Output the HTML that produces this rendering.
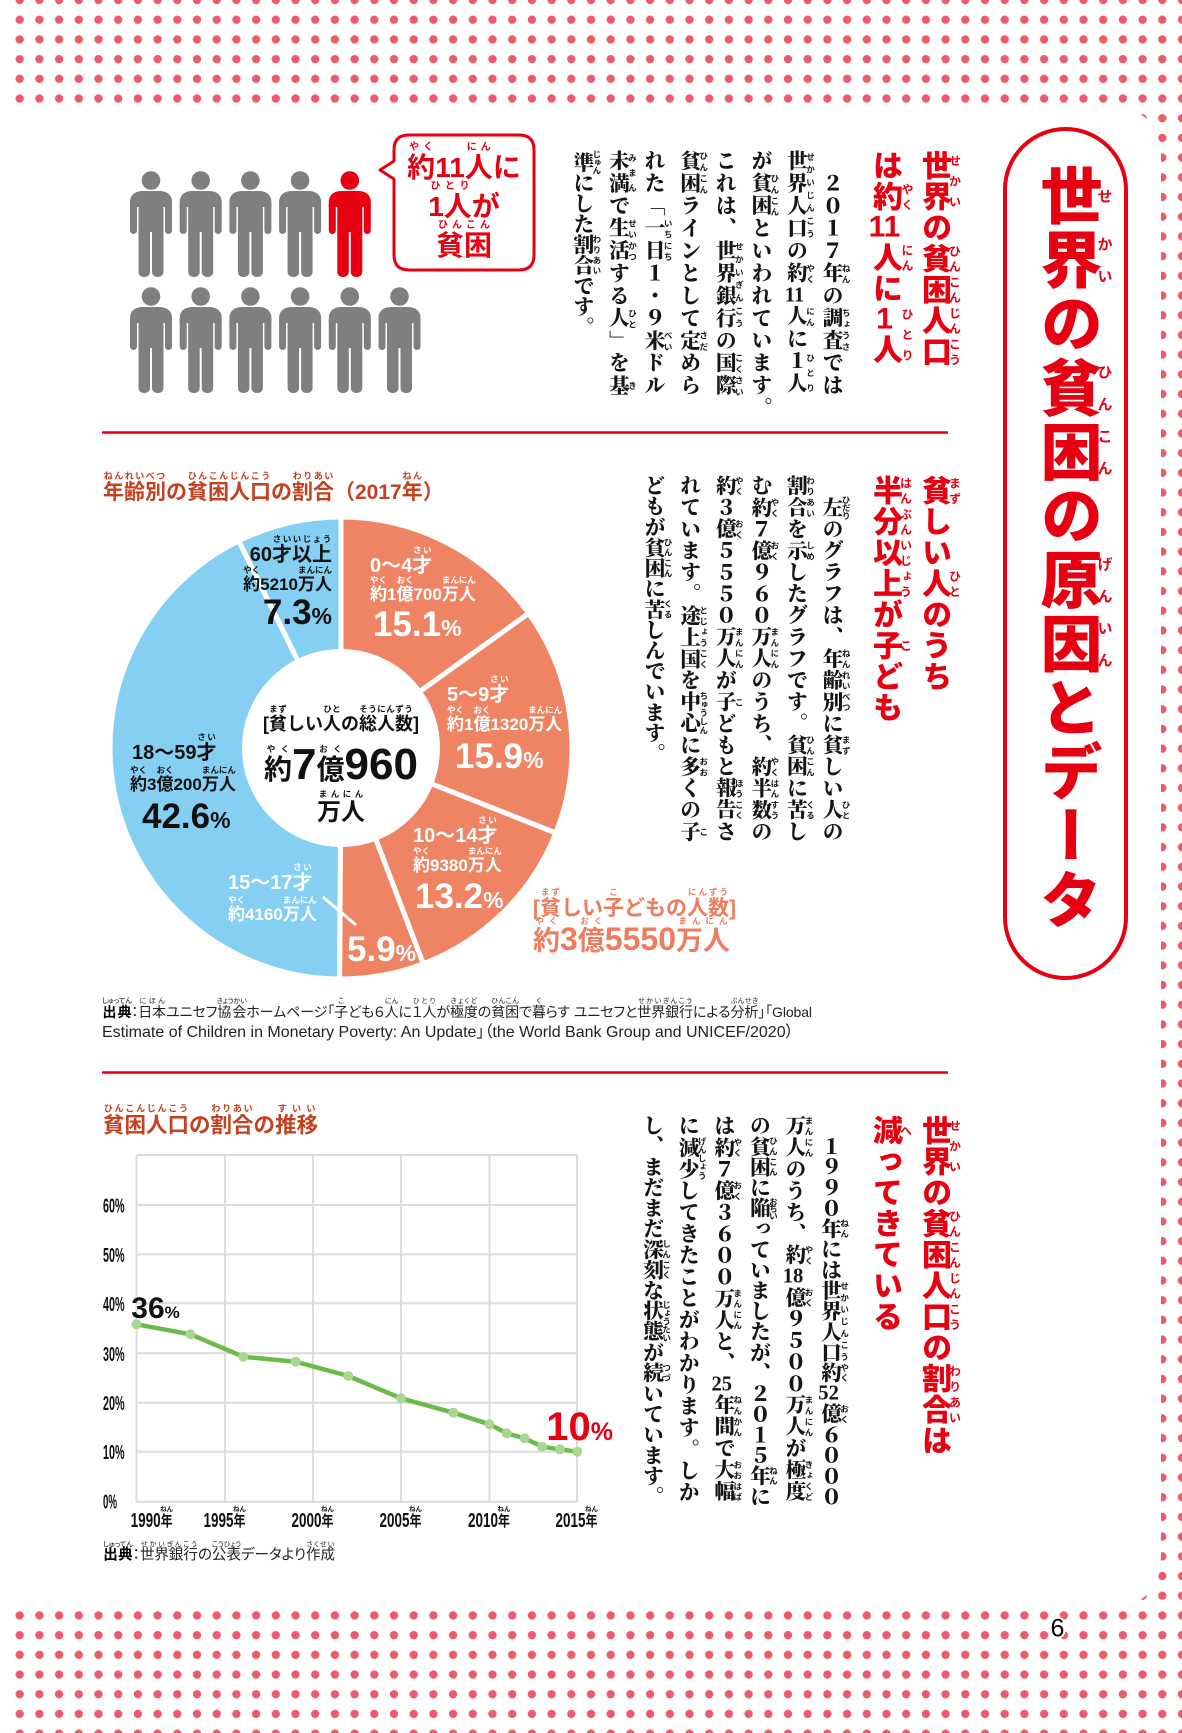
<!DOCTYPE html>
<html lang="ja"><head><meta charset="utf-8">
<style>
html,body{margin:0;padding:0;}
body{width:1182px;height:1733px;position:relative;overflow:hidden;background:#fff;}
svg{position:absolute;left:0;top:0;}
.v{position:absolute;writing-mode:vertical-rl;white-space:nowrap;line-height:1;}
.body{font-family:"Liberation Serif","Noto Serif CJK SC",serif;font-weight:900;font-size:20.6px;color:#151515;}
.body rt{font-family:"Noto Sans CJK JP",sans-serif;font-size:8.5px;font-weight:700;letter-spacing:-0.5px;line-height:1;}
.s1{letter-spacing:1.85px}
.s2{letter-spacing:1px}
.s3{letter-spacing:0.96px}
.hd{font-family:"Liberation Sans","Noto Sans CJK JP",sans-serif;font-weight:900;font-size:30px;color:#e60012;letter-spacing:1px;}
.hd rt{font-size:12px;font-weight:700;letter-spacing:0;line-height:1;}
.tcy{text-combine-upright:all;}
.ttl{font-family:"Liberation Sans","Noto Sans CJK JP",sans-serif;font-weight:900;font-size:62px;color:#e60012;letter-spacing:2px;}
.ttl rt{font-size:15px;font-weight:700;letter-spacing:0;line-height:1;}
.h{position:absolute;white-space:nowrap;line-height:1;transform:translateY(-100%);font-family:"Liberation Sans","Noto Sans CJK JP",sans-serif;font-weight:700;}
.h rt{font-family:"Noto Sans CJK JP",sans-serif;font-size:8.5px;font-weight:700;line-height:1;}
.c{transform:translate(-50%,-100%);}
.w{color:#fff;}
.k{color:#111;}
.cat{font-size:20px;}
.amt{font-size:17px;}
.num{font-size:35px;}
.num .p{font-size:23px;}
.ctitle{font-size:21px;color:#c4401f;}
.ctitle rt{color:#c4401f;font-size:9px;}
.bub{font-size:28px;color:#e60012;}
.bub rt{font-size:10px;color:#e60012;}
.src{font-family:"Liberation Sans","Noto Sans CJK JP",sans-serif;font-weight:400;color:#222;font-feature-settings:"palt";}
.src rt{font-size:7px;font-weight:400;letter-spacing:0;}
.src b{font-weight:700;color:#000;}
</style></head>
<body>
<svg width="1182" height="1733" viewBox="0 0 1182 1733" xmlns="http://www.w3.org/2000/svg">
 <defs>
  <pattern id="dots" x="-9.85" y="-9.85" width="19.7" height="19.7" patternUnits="userSpaceOnUse">
   <circle cx="9.85" cy="9.85" r="4.2" fill="#ec5a6c"/>
  </pattern>
 </defs>
 <rect x="10" y="0" width="1172" height="1733" fill="url(#dots)"/>
 <path d="M0,108 H1111 Q1161,108 1161,158 V1556 Q1161,1606 1111,1606 H0 Z" fill="#fff"/>

 <!-- title pill -->
 <rect x="1005" y="129" width="121" height="849" rx="60.5" ry="60.5" fill="#fff" stroke="#e60012" stroke-width="4"/>

 <!-- dividers -->
 <line x1="102" y1="432.5" x2="948" y2="432.5" stroke="#e60012" stroke-width="2.5"/>
 <line x1="102" y1="1072.5" x2="948" y2="1072.5" stroke="#e60012" stroke-width="2.5"/>

 <!-- people -->
 <g fill="#7f7f7f">
  <g transform="translate(130,171)">
   <circle cx="21" cy="9.5" r="9.3"/><path d="M0,31 C0,24 5,20 13,20 H29 C37,20 42,24 42,31 V36 H0 Z"/>
   <rect x="0" y="30" width="7" height="33" rx="3.5"/><rect x="35" y="30" width="7" height="33" rx="3.5"/>
   <rect x="8.5" y="25" width="25" height="36"/><rect x="8.5" y="56" width="11.5" height="50" rx="5"/><rect x="22" y="56" width="11.5" height="50" rx="5"/>
  </g>
  <g transform="translate(179.7,171)">
   <circle cx="21" cy="9.5" r="9.3"/><path d="M0,31 C0,24 5,20 13,20 H29 C37,20 42,24 42,31 V36 H0 Z"/>
   <rect x="0" y="30" width="7" height="33" rx="3.5"/><rect x="35" y="30" width="7" height="33" rx="3.5"/>
   <rect x="8.5" y="25" width="25" height="36"/><rect x="8.5" y="56" width="11.5" height="50" rx="5"/><rect x="22" y="56" width="11.5" height="50" rx="5"/>
  </g>
  <g transform="translate(229.4,171)">
   <circle cx="21" cy="9.5" r="9.3"/><path d="M0,31 C0,24 5,20 13,20 H29 C37,20 42,24 42,31 V36 H0 Z"/>
   <rect x="0" y="30" width="7" height="33" rx="3.5"/><rect x="35" y="30" width="7" height="33" rx="3.5"/>
   <rect x="8.5" y="25" width="25" height="36"/><rect x="8.5" y="56" width="11.5" height="50" rx="5"/><rect x="22" y="56" width="11.5" height="50" rx="5"/>
  </g>
  <g transform="translate(279.1,171)">
   <circle cx="21" cy="9.5" r="9.3"/><path d="M0,31 C0,24 5,20 13,20 H29 C37,20 42,24 42,31 V36 H0 Z"/>
   <rect x="0" y="30" width="7" height="33" rx="3.5"/><rect x="35" y="30" width="7" height="33" rx="3.5"/>
   <rect x="8.5" y="25" width="25" height="36"/><rect x="8.5" y="56" width="11.5" height="50" rx="5"/><rect x="22" y="56" width="11.5" height="50" rx="5"/>
  </g>
  <g transform="translate(328.8,171)" fill="#e60012">
   <circle cx="21" cy="9.5" r="9.3"/><path d="M0,31 C0,24 5,20 13,20 H29 C37,20 42,24 42,31 V36 H0 Z"/>
   <rect x="0" y="30" width="7" height="33" rx="3.5"/><rect x="35" y="30" width="7" height="33" rx="3.5"/>
   <rect x="8.5" y="25" width="25" height="36"/><rect x="8.5" y="56" width="11.5" height="50" rx="5"/><rect x="22" y="56" width="11.5" height="50" rx="5"/>
  </g>
  <g transform="translate(130,287)">
   <circle cx="21" cy="9.5" r="9.3"/><path d="M0,31 C0,24 5,20 13,20 H29 C37,20 42,24 42,31 V36 H0 Z"/>
   <rect x="0" y="30" width="7" height="33" rx="3.5"/><rect x="35" y="30" width="7" height="33" rx="3.5"/>
   <rect x="8.5" y="25" width="25" height="36"/><rect x="8.5" y="56" width="11.5" height="50" rx="5"/><rect x="22" y="56" width="11.5" height="50" rx="5"/>
  </g>
  <g transform="translate(179.7,287)">
   <circle cx="21" cy="9.5" r="9.3"/><path d="M0,31 C0,24 5,20 13,20 H29 C37,20 42,24 42,31 V36 H0 Z"/>
   <rect x="0" y="30" width="7" height="33" rx="3.5"/><rect x="35" y="30" width="7" height="33" rx="3.5"/>
   <rect x="8.5" y="25" width="25" height="36"/><rect x="8.5" y="56" width="11.5" height="50" rx="5"/><rect x="22" y="56" width="11.5" height="50" rx="5"/>
  </g>
  <g transform="translate(229.4,287)">
   <circle cx="21" cy="9.5" r="9.3"/><path d="M0,31 C0,24 5,20 13,20 H29 C37,20 42,24 42,31 V36 H0 Z"/>
   <rect x="0" y="30" width="7" height="33" rx="3.5"/><rect x="35" y="30" width="7" height="33" rx="3.5"/>
   <rect x="8.5" y="25" width="25" height="36"/><rect x="8.5" y="56" width="11.5" height="50" rx="5"/><rect x="22" y="56" width="11.5" height="50" rx="5"/>
  </g>
  <g transform="translate(279.1,287)">
   <circle cx="21" cy="9.5" r="9.3"/><path d="M0,31 C0,24 5,20 13,20 H29 C37,20 42,24 42,31 V36 H0 Z"/>
   <rect x="0" y="30" width="7" height="33" rx="3.5"/><rect x="35" y="30" width="7" height="33" rx="3.5"/>
   <rect x="8.5" y="25" width="25" height="36"/><rect x="8.5" y="56" width="11.5" height="50" rx="5"/><rect x="22" y="56" width="11.5" height="50" rx="5"/>
  </g>
  <g transform="translate(328.8,287)">
   <circle cx="21" cy="9.5" r="9.3"/><path d="M0,31 C0,24 5,20 13,20 H29 C37,20 42,24 42,31 V36 H0 Z"/>
   <rect x="0" y="30" width="7" height="33" rx="3.5"/><rect x="35" y="30" width="7" height="33" rx="3.5"/>
   <rect x="8.5" y="25" width="25" height="36"/><rect x="8.5" y="56" width="11.5" height="50" rx="5"/><rect x="22" y="56" width="11.5" height="50" rx="5"/>
  </g>
  <g transform="translate(378.5,287)">
   <circle cx="21" cy="9.5" r="9.3"/><path d="M0,31 C0,24 5,20 13,20 H29 C37,20 42,24 42,31 V36 H0 Z"/>
   <rect x="0" y="30" width="7" height="33" rx="3.5"/><rect x="35" y="30" width="7" height="33" rx="3.5"/>
   <rect x="8.5" y="25" width="25" height="36"/><rect x="8.5" y="56" width="11.5" height="50" rx="5"/><rect x="22" y="56" width="11.5" height="50" rx="5"/>
  </g>
 </g>

 <!-- speech bubble -->
 <path d="M409,135 H519 Q534,135 534,150 V255 Q534,270 519,270 H409 Q394,270 394,255 V179 L380,170 L394,161 V150 Q394,135 409,135 Z" fill="#fff" stroke="#e60012" stroke-width="3" stroke-linejoin="round"/>

 <!-- donut chart -->
 <g stroke="#fff" stroke-width="5" stroke-linejoin="round">
  <path d="M341,748 L341,517 A231,231 0 0 1 528.7,613.4 Z" fill="#ef8465"/>
  <path d="M341,748 L528.7,613.4 A231,231 0 0 1 555.8,833 Z" fill="#ef8465"/>
  <path d="M341,748 L555.8,833 A231,231 0 0 1 423.3,963.8 Z" fill="#ef8465"/>
  <path d="M341,748 L423.3,963.8 A231,231 0 0 1 339.55,979 Z" fill="#ef8465"/>
  <path d="M341,748 L339.55,979 A231,231 0 0 1 238.7,540.9 Z" fill="#84cff2"/>
  <path d="M341,748 L238.7,540.9 A231,231 0 0 1 341,517 Z" fill="#84cff2"/>
 </g>
 <circle cx="341" cy="748" r="99" fill="#fff"/>
 <line x1="323" y1="897" x2="356" y2="925" stroke="#fff" stroke-width="3"/>

 <!-- line chart -->
 <g stroke="#dcdcdc" stroke-width="2" fill="none">
  <line x1="136.5" y1="1155" x2="136.5" y2="1502"/>
  <line x1="225" y1="1155" x2="225" y2="1502"/>
  <line x1="313" y1="1155" x2="313" y2="1502"/>
  <line x1="401" y1="1155" x2="401" y2="1502"/>
  <line x1="489.5" y1="1155" x2="489.5" y2="1502"/>
  <line x1="577" y1="1155" x2="577" y2="1502"/>
  <line x1="136.5" y1="1155" x2="577" y2="1155"/>
  <line x1="136.5" y1="1205" x2="577" y2="1205"/>
  <line x1="136.5" y1="1254.3" x2="577" y2="1254.3"/>
  <line x1="136.5" y1="1303.3" x2="577" y2="1303.3"/>
  <line x1="136.5" y1="1353.3" x2="577" y2="1353.3"/>
  <line x1="136.5" y1="1402.7" x2="577" y2="1402.7"/>
  <line x1="136.5" y1="1451.7" x2="577" y2="1451.7"/>
  <line x1="136.5" y1="1501.7" x2="577" y2="1501.7"/>
 </g>
 <polyline points="136.5,1324.3 190.5,1334.3 243.2,1356.7 295.6,1361.7 348.3,1376 401,1398.3 453.3,1412.7 489.5,1424.3 506.7,1433.3 524.6,1438.3 542.1,1446.7 560,1449.3 577.3,1451.7" fill="none" stroke="#6cba4c" stroke-width="4.5" stroke-linejoin="round" stroke-linecap="round"/>
 <g fill="#a9d690">
  <circle cx="136.5" cy="1324.3" r="5"/><circle cx="190.5" cy="1334.3" r="5"/><circle cx="243.2" cy="1356.7" r="5"/>
  <circle cx="295.6" cy="1361.7" r="5"/><circle cx="348.3" cy="1376" r="5"/><circle cx="401" cy="1398.3" r="5"/>
  <circle cx="453.3" cy="1412.7" r="5"/><circle cx="489.5" cy="1424.3" r="5"/><circle cx="506.7" cy="1433.3" r="5"/>
  <circle cx="524.6" cy="1438.3" r="5"/><circle cx="542.1" cy="1446.7" r="5"/><circle cx="560" cy="1449.3" r="5"/>
  <circle cx="577.3" cy="1451.7" r="5"/>
 </g>
 <g font-family="'Liberation Sans Narrow','Liberation Sans',sans-serif" font-weight="700" font-size="20" fill="#111">
  <text x="103" y="1212.5" textLength="21.5" lengthAdjust="spacingAndGlyphs">60%</text>
  <text x="103" y="1261.8" textLength="21.5" lengthAdjust="spacingAndGlyphs">50%</text>
  <text x="103" y="1310.8" textLength="21.5" lengthAdjust="spacingAndGlyphs">40%</text>
  <text x="103" y="1360.8" textLength="21.5" lengthAdjust="spacingAndGlyphs">30%</text>
  <text x="103" y="1410" textLength="21.5" lengthAdjust="spacingAndGlyphs">20%</text>
  <text x="103" y="1459" textLength="21.5" lengthAdjust="spacingAndGlyphs">10%</text>
  <text x="103" y="1508.5" textLength="14" lengthAdjust="spacingAndGlyphs">0%</text>
  <text x="130.6" y="1527" textLength="30" lengthAdjust="spacingAndGlyphs">1990</text>
  <text x="203.5" y="1527" textLength="30" lengthAdjust="spacingAndGlyphs">1995</text>
  <text x="291.5" y="1527" textLength="30" lengthAdjust="spacingAndGlyphs">2000</text>
  <text x="379.5" y="1527" textLength="30" lengthAdjust="spacingAndGlyphs">2005</text>
  <text x="468" y="1527" textLength="30" lengthAdjust="spacingAndGlyphs">2010</text>
  <text x="555.5" y="1527" textLength="30" lengthAdjust="spacingAndGlyphs">2015</text>
 </g>
 <g font-family="'Liberation Sans','Noto Sans CJK JP',sans-serif" font-weight="700" font-size="15" fill="#111">
  <text x="160.6" y="1526" textLength="12" lengthAdjust="spacingAndGlyphs">年</text>
  <text x="233.5" y="1526" textLength="12" lengthAdjust="spacingAndGlyphs">年</text>
  <text x="321.5" y="1526" textLength="12" lengthAdjust="spacingAndGlyphs">年</text>
  <text x="409.5" y="1526" textLength="12" lengthAdjust="spacingAndGlyphs">年</text>
  <text x="498" y="1526" textLength="12" lengthAdjust="spacingAndGlyphs">年</text>
  <text x="585.5" y="1526" textLength="12" lengthAdjust="spacingAndGlyphs">年</text>
 </g>
 <g font-family="'Liberation Sans','Noto Sans CJK JP',sans-serif" font-weight="700" font-size="6.5" fill="#111" text-anchor="middle">
  <text x="166.6" y="1511">ねん</text><text x="239.5" y="1511">ねん</text><text x="327.5" y="1511">ねん</text>
  <text x="415.5" y="1511">ねん</text><text x="504" y="1511">ねん</text><text x="591.5" y="1511">ねん</text>
 </g>
 <text x="131.3" y="1318" font-family="'Liberation Sans',sans-serif" font-weight="700" fill="#111"><tspan font-size="30">36</tspan><tspan font-size="17">%</tspan></text>
 <text x="546.3" y="1440" font-family="'Liberation Sans',sans-serif" font-weight="700" fill="#e60012"><tspan font-size="40">10</tspan><tspan font-size="25">%</tspan></text>

 <!-- page number -->
 <text x="1050.5" y="1636.7" font-family="'Liberation Sans',sans-serif" font-size="25" fill="#000" stroke="#fff" stroke-width="4" paint-order="stroke">6</text>
</svg>

<!-- Title pill text -->
<div class="v ttl" style="left:1033.5px;top:164px;"><ruby>世<rt>せ</rt></ruby><ruby>界<rt>かい</rt></ruby>の<ruby>貧困<rt>ひんこん</rt></ruby>の<ruby>原因<rt>げんいん</rt></ruby>とデータ</div>

<!-- Section 1 header -->
<div class="v hd" style="left:918px;top:150px;"><ruby>世界<rt>せかい</rt></ruby>の<ruby>貧困人口<rt>ひんこんじんこう</rt></ruby></div>
<div class="v hd" style="left:869px;top:150px;">は<ruby>約<rt>やく</rt></ruby><span class="tcy">11</span><ruby>人<rt>にん</rt></ruby>に<ruby><span class="tcy">1</span>人<rt>ひとり</rt></ruby></div>

<!-- Section 1 body -->
<div class="v body s1" style="left:819.5px;top:150px;">　２０１７<ruby>年<rt>ねん</rt></ruby>の<ruby>調査<rt>ちょうさ</rt></ruby>では</div>
<div class="v body s1" style="left:783.9px;top:150px;"><ruby>世界人口<rt>せかいじんこう</rt></ruby>の<ruby>約<rt>やく</rt></ruby><span class="tcy">11</span><ruby>人<rt>にん</rt></ruby>に<ruby>１人<rt>ひとり</rt></ruby></div>
<div class="v body s1" style="left:748.3px;top:150px;">が<ruby>貧困<rt>ひんこん</rt></ruby>といわれています。</div>
<div class="v body s1" style="left:712.7px;top:150px;">これは、<ruby>世界銀行<rt>せかいぎんこう</rt></ruby>の<ruby>国際<rt>こくさい</rt></ruby></div>
<div class="v body s1" style="left:677.1px;top:150px;"><ruby>貧困<rt>ひんこん</rt></ruby>ラインとして<ruby>定<rt>さだ</rt></ruby>めら</div>
<div class="v body s1" style="left:641.5px;top:150px;">れた「<ruby>一日<rt>いちにち</rt></ruby>１・９<ruby>米<rt>べい</rt></ruby>ドル</div>
<div class="v body s1" style="left:605.9px;top:150px;"><ruby>未満<rt>みまん</rt></ruby>で<ruby>生活<rt>せいかつ</rt></ruby>する<ruby>人<rt>ひと</rt></ruby>」を<ruby>基<rt>き</rt></ruby></div>
<div class="v body" style="left:570.3px;top:150px;"><ruby>準<rt>じゅん</rt></ruby>にした<ruby>割合<rt>わりあい</rt></ruby>です。</div>

<!-- bubble text -->
<div class="h bub c" style="left:464px;top:182.4px;"><ruby>約<rt>やく</rt></ruby>11<ruby>人<rt>にん</rt></ruby>に</div>
<div class="h bub c" style="left:464px;top:220.9px;"><ruby>1人<rt>ひとり</rt></ruby>が</div>
<div class="h bub c" style="left:464px;top:260.4px;"><ruby>貧困<rt>ひんこん</rt></ruby></div>

<!-- Section 2 header -->
<div class="v hd" style="left:918px;top:475px;"><ruby>貧<rt>まず</rt></ruby>しい<ruby>人<rt>ひと</rt></ruby>のうち</div>
<div class="v hd" style="left:869px;top:475px;"><ruby>半分以上<rt>はんぶんいじょう</rt></ruby>が<ruby>子<rt>こ</rt></ruby>ども</div>

<!-- Section 2 body -->
<div class="v body s2" style="left:819.5px;top:475px;">　<ruby>左<rt>ひだり</rt></ruby>のグラフは、<ruby>年齢別<rt>ねんれいべつ</rt></ruby>に<ruby>貧<rt>まず</rt></ruby>しい<ruby>人<rt>ひと</rt></ruby>の</div>
<div class="v body s2" style="left:783.9px;top:475px;"><ruby>割合<rt>わりあい</rt></ruby>を<ruby>示<rt>しめ</rt></ruby>したグラフです。<ruby>貧困<rt>ひんこん</rt></ruby>に<ruby>苦<rt>くる</rt></ruby>し</div>
<div class="v body s2" style="left:748.3px;top:475px;">む<ruby>約<rt>やく</rt></ruby>７<ruby>億<rt>おく</rt></ruby>９６０<ruby>万人<rt>まんにん</rt></ruby>のうち、<ruby>約半数<rt>やくはんすう</rt></ruby>の</div>
<div class="v body s2" style="left:712.7px;top:475px;"><ruby>約<rt>やく</rt></ruby>３<ruby>億<rt>おく</rt></ruby>５５５０<ruby>万人<rt>まんにん</rt></ruby>が<ruby>子<rt>こ</rt></ruby>どもと<ruby>報告<rt>ほうこく</rt></ruby>さ</div>
<div class="v body s2" style="left:677.1px;top:475px;">れています。<ruby>途上国<rt>とじょうこく</rt></ruby>を<ruby>中心<rt>ちゅうしん</rt></ruby>に<ruby>多<rt>おお</rt></ruby>くの<ruby>子<rt>こ</rt></ruby></div>
<div class="v body" style="left:641.5px;top:475px;">どもが<ruby>貧困<rt>ひんこん</rt></ruby>に<ruby>苦<rt>くる</rt></ruby>しんでいます。</div>

<!-- Pie title -->
<div class="h ctitle" style="left:103px;top:503.2px;"><ruby>年齢別<rt>ねんれいべつ</rt></ruby>の<ruby>貧困人口<rt>ひんこんじんこう</rt></ruby>の<ruby>割合<rt>わりあい</rt></ruby>（2017<ruby>年<rt>ねん</rt></ruby>）</div>

<!-- Pie labels -->
<div class="h k cat" style="right:850px;top:564.6px;">60<ruby>才<rt>さい</rt></ruby><ruby>以上<rt>いじょう</rt></ruby></div>
<div class="h k amt" style="right:850px;top:592.6px;"><ruby>約<rt>やく</rt></ruby>5210<ruby>万人<rt>まんにん</rt></ruby></div>
<div class="h k num" style="right:850px;top:630.4px;">7.3<span class="p">%</span></div>

<div class="h w cat" style="left:370px;top:576.4px;">0～4<ruby>才<rt>さい</rt></ruby></div>
<div class="h w amt" style="left:370px;top:602.6px;"><ruby>約<rt>やく</rt></ruby>1<ruby>億<rt>おく</rt></ruby>700<ruby>万人<rt>まんにん</rt></ruby></div>
<div class="h w num" style="left:373px;top:642.4px;">15.1<span class="p">%</span></div>

<div class="h w cat" style="left:447px;top:704.8px;">5～9<ruby>才<rt>さい</rt></ruby></div>
<div class="h w amt" style="left:447px;top:732.6px;"><ruby>約<rt>やく</rt></ruby>1<ruby>億<rt>おく</rt></ruby>1320<ruby>万人<rt>まんにん</rt></ruby></div>
<div class="h w num" style="left:455px;top:773.7px;">15.9<span class="p">%</span></div>

<div class="h w cat" style="left:413px;top:846px;">10～14<ruby>才<rt>さい</rt></ruby></div>
<div class="h w amt" style="left:413px;top:874.3px;"><ruby>約<rt>やく</rt></ruby>9380<ruby>万人<rt>まんにん</rt></ruby></div>
<div class="h w num" style="left:415px;top:913.7px;">13.2<span class="p">%</span></div>

<div class="h w num" style="left:347px;top:967px;">5.9<span class="p">%</span></div>

<div class="h w cat" style="left:228px;top:893px;">15～17<ruby>才<rt>さい</rt></ruby></div>
<div class="h w amt" style="left:228px;top:922.6px;"><ruby>約<rt>やく</rt></ruby>4160<ruby>万人<rt>まんにん</rt></ruby></div>

<div class="h k cat" style="left:132px;top:763px;">18～59<ruby>才<rt>さい</rt></ruby></div>
<div class="h k amt" style="left:130px;top:792.6px;"><ruby>約<rt>やく</rt></ruby>3<ruby>億<rt>おく</rt></ruby>200<ruby>万人<rt>まんにん</rt></ruby></div>
<div class="h k num" style="left:142px;top:833.7px;">42.6<span class="p">%</span></div>

<!-- Pie centre -->
<div class="h k c" style="left:341px;top:733.2px;font-size:18px;">[<ruby>貧<rt>まず</rt></ruby>しい<ruby>人<rt>ひと</rt></ruby>の<ruby>総人数<rt>そうにんずう</rt></ruby>]</div>
<div class="h k c" style="left:341px;top:786.8px;font-size:28px;"><ruby>約<rt>やく</rt></ruby><span style="font-size:44px;">7</span><ruby>億<rt>おく</rt></ruby><span style="font-size:44px;">960</span></div>
<div class="h k c" style="left:341px;top:825px;font-size:24px;"><ruby>万人<rt>まんにん</rt></ruby></div>

<!-- Children total -->
<div class="h" style="left:533px;top:918.7px;font-size:21px;color:#ee7d5e;">[<ruby>貧<rt>まず</rt></ruby>しい<ruby>子<rt>こ</rt></ruby>どもの<ruby>人数<rt>にんずう</rt></ruby>]</div>
<div class="h" style="left:533px;top:954.9px;font-size:27px;color:#ee7d5e;"><ruby>約<rt>やく</rt></ruby><span style="font-size:32px;">3</span><ruby>億<rt>おく</rt></ruby><span style="font-size:32px;">5550</span><ruby>万人<rt>まんにん</rt></ruby></div>

<!-- Source 1 -->
<div class="h src" style="left:102px;top:1019.3px;font-size:14px;letter-spacing:-0.1px;"><b><ruby>出典<rt>しゅってん</rt></ruby></b>：<ruby>日本<rt>にほん</rt></ruby>ユニセフ<ruby>協会<rt>きょうかい</rt></ruby>ホームページ「<ruby>子<rt>こ</rt></ruby>ども６<ruby>人<rt>にん</rt></ruby>に<ruby>１人<rt>ひとり</rt></ruby>が<ruby>極度<rt>きょくど</rt></ruby>の<ruby>貧困<rt>ひんこん</rt></ruby>で<ruby>暮<rt>く</rt></ruby>らす ユニセフと<ruby>世界銀行<rt>せかいぎんこう</rt></ruby>による<ruby>分析<rt>ぶんせき</rt></ruby>」「Global</div>
<div class="h src" style="left:102px;top:1041px;font-size:16px;">Estimate of Children in Monetary Poverty: An Update」（the World Bank Group and UNICEF/2020）</div>

<!-- Section 3 header -->
<div class="v hd" style="left:918px;top:1115px;"><ruby>世界<rt>せかい</rt></ruby>の<ruby>貧困人口<rt>ひんこんじんこう</rt></ruby>の<ruby>割合<rt>わりあい</rt></ruby>は</div>
<div class="v hd" style="left:869px;top:1115px;"><ruby>減<rt>へ</rt></ruby>ってきている</div>

<!-- Section 3 body -->
<div class="v body" style="left:818px;top:1115px;">　１９９０<ruby>年<rt>ねん</rt></ruby>には<ruby>世界人口<rt>せかいじんこう</rt></ruby><ruby>約<rt>やく</rt></ruby><span class="tcy">52</span><ruby>億<rt>おく</rt></ruby>６０００</div>
<div class="v body s3" style="left:782.4px;top:1115px;"><ruby>万人<rt>まんにん</rt></ruby>のうち、<ruby>約<rt>やく</rt></ruby><span class="tcy">18</span><ruby>億<rt>おく</rt></ruby>９５００<ruby>万人<rt>まんにん</rt></ruby>が<ruby>極度<rt>きょくど</rt></ruby></div>
<div class="v body" style="left:746.8px;top:1115px;">の<ruby>貧困<rt>ひんこん</rt></ruby>に<ruby>陥<rt style="letter-spacing:-2px">おちい</rt></ruby>っていましたが、２０１５<ruby>年<rt>ねん</rt></ruby>に</div>
<div class="v body s3" style="left:711.2px;top:1115px;">は<ruby>約<rt>やく</rt></ruby>７<ruby>億<rt>おく</rt></ruby>３６００<ruby>万人<rt>まんにん</rt></ruby>と、<span class="tcy">25</span><ruby>年間<rt>ねんかん</rt></ruby>で<ruby>大幅<rt>おおはば</rt></ruby></div>
<div class="v body s3" style="left:675.6px;top:1115px;">に<ruby>減少<rt>げんしょう</rt></ruby>してきたことがわかります。しか</div>
<div class="v body" style="left:640px;top:1115px;">し、まだまだ<ruby>深刻<rt>しんこく</rt></ruby>な<ruby>状態<rt>じょうたい</rt></ruby>が<ruby>続<rt>つづ</rt></ruby>いています。</div>

<!-- Line chart title -->
<div class="h ctitle" style="left:103px;top:1136.8px;font-size:21.5px;"><ruby>貧困人口<rt>ひんこんじんこう</rt></ruby>の<ruby>割合<rt>わりあい</rt></ruby>の<ruby>推移<rt>すいい</rt></ruby></div>

<!-- Source 2 -->
<div class="h src" style="left:103px;top:1563px;font-size:14.5px;"><b><ruby>出典<rt>しゅってん</rt></ruby></b>：<ruby>世界銀行<rt>せかいぎんこう</rt></ruby>の<ruby>公表<rt>こうひょう</rt></ruby>データより<ruby>作成<rt>さくせい</rt></ruby></div>

</body></html>
